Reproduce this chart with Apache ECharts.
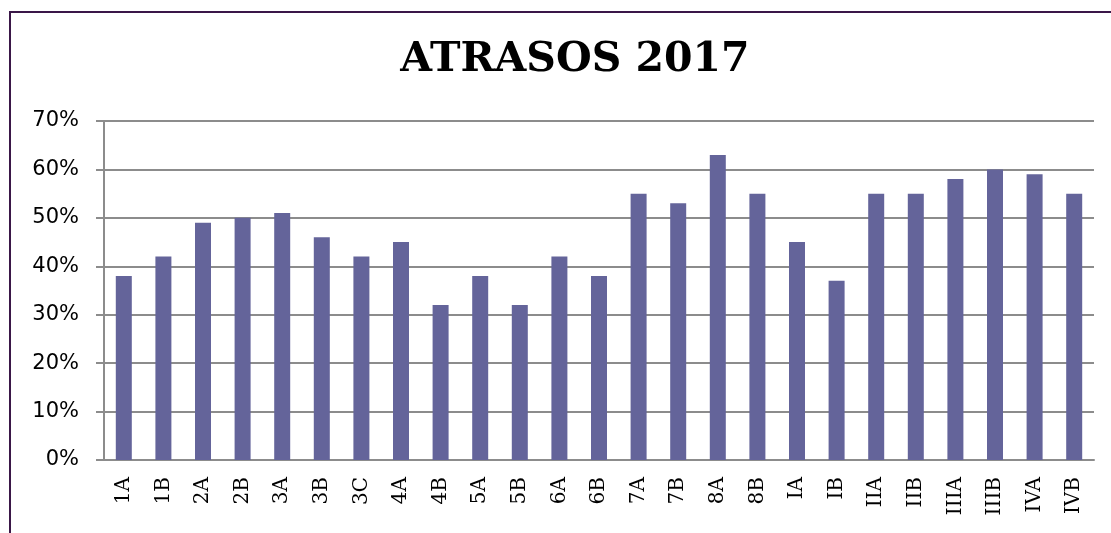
<!DOCTYPE html>
<html>
<head>
<meta charset="utf-8">
<script src="https://cdn.jsdelivr.net/npm/echarts@6/dist/echarts.min.js"></script>
<style>
html, body { margin: 0; padding: 0; background: #fff; }
#chart { width: 1111px; height: 533px; }
</style>
</head>
<body>
<div id="chart"></div>
<script>
const categories = ['1A', '1B', '2A', '2B', '3A', '3B', '3C', '4A', '4B', '5A', '5B', '6A', '6B',
    '7A', '7B', '8A', '8B', 'IA', 'IB', 'IIA', 'IIB', 'IIIA', 'IIIB', 'IVA', 'IVB'];
const atrasos = [38, 42, 49, 50, 51, 46, 42, 45, 32, 38, 32, 42, 38,
    55, 53, 63, 55, 45, 37, 55, 55, 58, 60, 59, 55];

const chart = echarts.init(document.getElementById('chart'));
chart.setOption({
    animation: false,
    graphic: [
        {
            type: 'polyline',
            shape: { points: [[10, 540], [10, 12], [1120, 12]] },
            style: { fill: 'none', stroke: '#3a1748', lineWidth: 2 }
        }
    ],
    title: {
        text: 'ATRASOS 2017',
        left: 570,
        textAlign: 'center',
        top: 35,
        textStyle: {
            fontFamily: 'DejaVu Serif',
            fontWeight: 'bold',
            fontSize: 41,
            color: '#000'
        }
    },
    grid: {
        left: 104,
        right: 17,
        top: 121,
        bottom: 73,
        containLabel: false
    },
    xAxis: {
        type: 'category',
        data: categories,
        axisLine: { lineStyle: { color: '#8c8c8c', width: 2 } },
        axisTick: { length: 8, lineStyle: { color: '#8c8c8c', width: 2 } },
        axisLabel: {
            rotate: 90,
            margin: 17,
            color: '#000',
            fontFamily: 'DejaVu Serif',
            fontSize: 20
        }
    },
    yAxis: {
        type: 'value',
        min: 0,
        max: 70,
        interval: 10,
        axisLine: { show: true, lineStyle: { color: '#8c8c8c', width: 2 } },
        axisTick: { show: true, length: 8, lineStyle: { color: '#8c8c8c', width: 2 } },
        splitLine: { lineStyle: { color: '#8c8c8c', width: 2 } },
        axisLabel: {
            formatter: '{value}%',
            margin: 25,
            color: '#000',
            fontFamily: 'DejaVu Sans',
            fontSize: 21
        }
    },
    series: [
        {
            name: 'Atrasos',
            type: 'bar',
            data: atrasos,
            barWidth: 16,
            itemStyle: { color: '#64649a' }
        }
    ]
});
</script>
</body>
</html>
